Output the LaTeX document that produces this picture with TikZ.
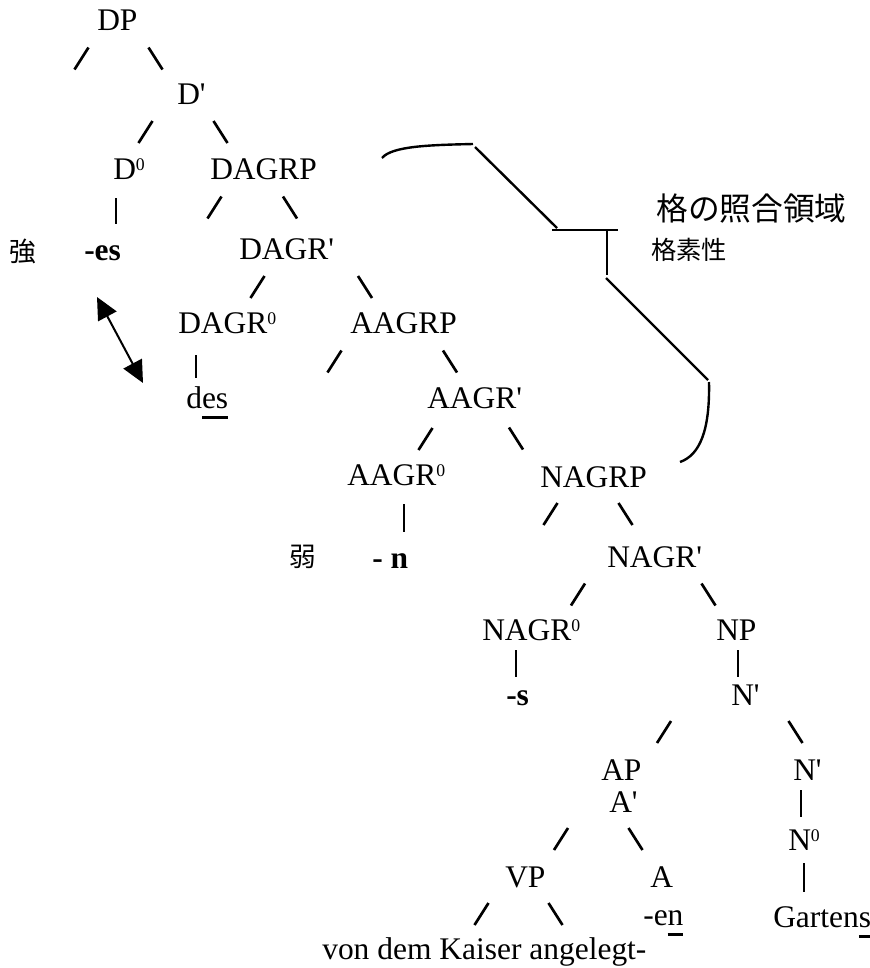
\documentclass[tikz,border=0pt]{standalone}
\usepackage{fontspec}
\newfontfamily\tnr{Liberation Serif}
\newfontfamily\jp{Noto Sans CJK JP}
\usetikzlibrary{arrows.meta}

% underlined letters
\newcommand\uln[1]{\setbox0\hbox{#1}\rlap{\rule[-8pt]{\wd0}{1.8pt}}\box0}
% small raised zero
\newcommand\zsup{\raisebox{6.4pt}{\fontsize{13.3}{14}\selectfont 0}}
% slash marks of the tree
\newcommand\slfw[2]{\draw[slash] (#1-7,#2+11) -- (#1+7,#2-11);}
\newcommand\slbw[2]{\draw[slash] (#1-7,#2-11) -- (#1+7,#2+11);}

\tikzset{
  lbl/.style={anchor=base west, inner sep=0pt, font=\tnr\fontsize{23.6}{28}\selectfont},
  jlbl/.style={inner sep=0pt, font=\jp\fontsize{20}{22}\selectfont},
  slash/.style={line width=2pt},
  bar/.style={line width=0.8pt},
  brace/.style={line width=1.8pt}
}

\begin{document}
\begin{tikzpicture}[x=0.75pt,y=-0.75pt]
\useasboundingbox (0,0) rectangle (870,968);
% labels
\node[lbl] (DP) at (97,30) {DP};
\node[lbl] (Dbar) at (177,104) {D'};
\node[lbl] (Dzero) at (113,179) {D\zsup};
\node[lbl] (DAGRP) at (210,179) {DAGRP};
\node[jlbl] (strong) at (22.5,251) {強};
\node[lbl] (es) at (84,260) {\textbf{-es}};
\node[lbl] (DAGRbar) at (239,259) {DAGR'};
\node[lbl] (DAGRzero) at (178,333) {DAGR\zsup};
\node[lbl] (AAGRP) at (350,333) {AAGRP};
\node[lbl] (des) at (186,408) {d\uln{es}};
\node[lbl] (AAGRbar) at (427,408) {AAGR'};
\node[lbl] (AAGRzero) at (347,485) {AAGR\zsup};
\node[lbl] (NAGRP) at (540,487) {NAGRP};
\node[jlbl] (weak) at (302.5,556.5) {弱};
\node[lbl] (n) at (372,568) {\textbf{- n}};
\node[lbl] (NAGRbar) at (607,567) {NAGR'};
\node[lbl] (NAGRzero) at (482,640) {NAGR\zsup};
\node[lbl] (NP) at (716,640) {NP};
\node[lbl] (s) at (506,705) {\textbf{-s}};
\node[lbl] (Nbar) at (731,705) {N'};
\node[lbl] (AP) at (601,780) {AP};
\node[lbl] (Abar) at (609,812) {A'};
\node[lbl] (Nbarlow) at (793,780) {N'};
\node[lbl] (Nzero) at (788,850) {N\zsup};
\node[lbl] (VP) at (505,887) {VP};
\node[lbl] (A) at (650,887) {A};
\node[lbl] (en) at (643,925) {-e\uln{n}};
\node[lbl] (Gartens) at (773,927) {Garten\uln{s}};
\node[lbl] (vdk) at (322,959) {von dem Kaiser angelegt-};
\node[jlbl, anchor=west, font=\jp\fontsize{23.8}{26}\selectfont] (domain) at (656,208.5) {格の照合領域};
\node[jlbl, anchor=west, font=\jp\fontsize{19}{22}\selectfont] (feature) at (651,250) {格素性};
% branches
\slfw{81.5}{58.5} \slbw{155.5}{58.5}
\slfw{145.5}{132} \slbw{220.5}{132}
\slfw{214.5}{207.5} \slbw{290}{207.5}
\slfw{257.5}{287} \slbw{365}{287}
\slfw{334.5}{361.5} \slbw{450}{361.5}
\slfw{425.5}{439} \slbw{516}{438.5}
\slfw{550.5}{514} \slbw{625.5}{514}
\slfw{578}{594.5} \slbw{708.5}{594.5}
\slfw{664}{732} \slbw{795.5}{732}
\slfw{561}{839} \slbw{635.5}{839}
\slfw{481.5}{914} \slbw{555.5}{914}
\draw[bar] (116,198) -- (116,224);
\draw[bar] (196,355) -- (196,378);
\draw[bar] (404,504) -- (404,532);
\draw[bar] (516,650) -- (516,677);
\draw[bar] (738,650) -- (738,677);
\draw[bar] (801,790) -- (801,817);
\draw[bar] (804,863) -- (804,892);
% agreement arrow
\coordinate (arrA) at (97,297);
\coordinate (arrB) at (143,383);
\draw[line width=1.5pt, {Triangle[length=16.5pt,width=15.5pt]}-{Triangle[length=16.5pt,width=15.5pt]}] (arrA) -- (arrB);
% checking domain bracket
\draw[brace] (382,158) .. controls (392,146) and (430,145) .. (473,144);
\draw[brace] (475,147) -- (557,228);
\draw[brace] (552,230) -- (618,230);
\draw[brace] (607,230) -- (607,275);
\draw[brace] (606,278) -- (708,380);
\draw[brace] (709,382) .. controls (710,430) and (700,455) .. (680,462);
\end{tikzpicture}
\end{document}
